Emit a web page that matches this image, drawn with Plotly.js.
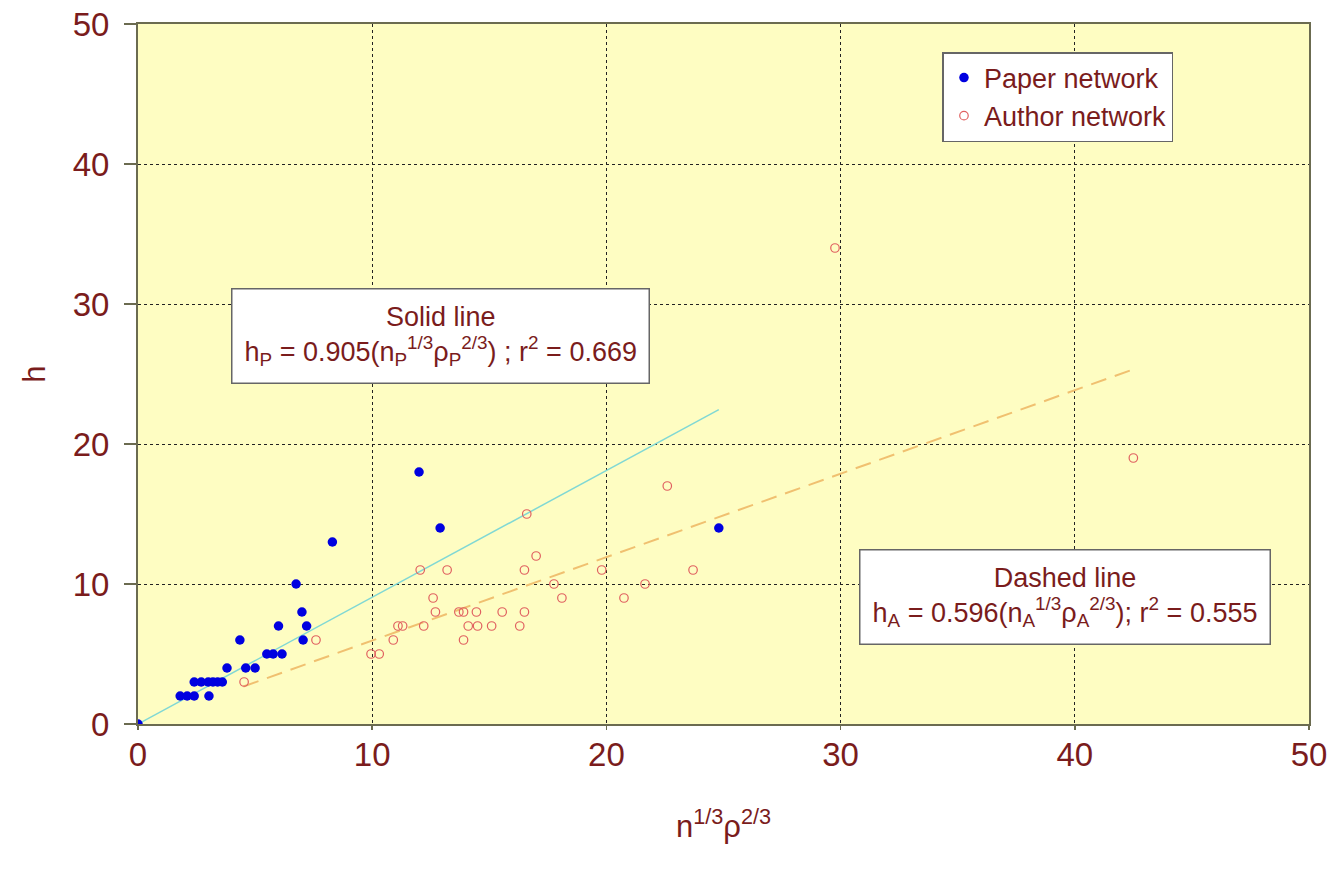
<!DOCTYPE html>
<html>
<head>
<meta charset="utf-8">
<script src="https://cdn.plot.ly/plotly-3.0.1.min.js"></script>
<style>html,body{margin:0;padding:0;background:#fff;}#chart{width:1332px;height:870px;}</style>
</head>
<body>
<div id="chart"></div>
<script>
// Paper network (h_P vs n^{1/3} rho^{2/3})
const paperX = [0, 1.8, 2.1, 2.4, 3.03, 2.4, 2.7, 3.0, 3.2, 3.4, 3.6, 3.8, 4.6, 5.0, 5.5, 5.77, 6.15, 4.35, 7.05, 6.0, 7.2, 7.0, 6.75, 8.3, 12.9, 12.0, 24.8];
const paperY = [0, 2, 2, 2, 2, 3, 3, 3, 3, 3, 3, 4, 4, 4, 5, 5, 5, 6, 6, 7, 7, 8, 10, 13, 14, 18, 14];
// Author network
const authorX = [4.53, 7.6, 9.95, 10.3, 10.9, 11.1, 11.3, 12.2, 14.1, 14.5, 15.1, 16.3, 13.9, 12.7, 13.7, 13.9, 14.45, 15.55, 16.5, 12.6, 18.1, 20.75, 17.76, 21.65, 12.05, 13.2, 16.5, 19.8, 23.7, 17.0, 16.6, 22.6, 42.5, 29.76];
const authorY = [3, 6, 5, 5, 6, 7, 7, 7, 7, 7, 7, 7, 6, 8, 8, 8, 8, 8, 8, 9, 9, 9, 10, 10, 11, 11, 11, 11, 11, 12, 15, 17, 19, 34];
// Fitted lines (endpoints)
const solidX = [0, 24.8];
const solidY = [0, 22.45];
const dashX = [4.5, 42.5];
const dashY = [2.68, 25.33];

const xTicks = [0, 10, 20, 30, 40, 50];
const yTicks = [0, 10, 20, 30, 40, 50];

const txt = '#7a1c1c';
const fontFam = 'Liberation Sans, Arial, sans-serif';

const traces = [
  {x: solidX, y: solidY, mode: 'lines', line: {color: '#80d8d4', width: 1.5}, showlegend: false, hoverinfo: 'skip'},
  {x: dashX, y: dashY, mode: 'lines', line: {color: '#f0c070', width: 2, dash: '16px,9px'}, showlegend: false, hoverinfo: 'skip'},
  {x: paperX, y: paperY, mode: 'markers', name: 'Paper network', marker: {color: '#0000e0', size: 9.5, symbol: 'circle'}},
  {x: authorX, y: authorY, mode: 'markers', name: 'Author network', marker: {color: '#e06060', size: 8.5, symbol: 'circle-open', line: {width: 1.2}}}
];

const axisCommon = {
  showline: true, linecolor: '#6b6b50', linewidth: 2, mirror: true,
  showgrid: true, gridcolor: '#222', gridwidth: 1, griddash: '3px,3px',
  zeroline: false, ticks: 'outside', tickcolor: '#6b6b50', tickwidth: 1.5,
  tickfont: {size: 33, color: txt, family: fontFam}
};

const layout = {
  width: 1332, height: 870,
  margin: {l: 138, r: 23, t: 24, b: 146},
  paper_bgcolor: '#ffffff',
  plot_bgcolor: '#fefdc2',
  font: {family: fontFam, color: txt},
  xaxis: Object.assign({}, axisCommon, {
    range: [0, 50], tickvals: xTicks, ticktext: xTicks.map(String), ticklen: 4,
    ticklabelstandoff: -4,
    title: {text: 'n<sup>1/3</sup>ρ<sup>2/3</sup>', font: {size: 31, color: txt}, standoff: 44}
  }),
  yaxis: Object.assign({}, axisCommon, {
    range: [0, 50], tickvals: yTicks, ticktext: yTicks.map(String), ticklen: 12,
    ticklabelstandoff: 8,
    title: {text: 'h', font: {size: 31, color: txt}, standoff: 18}
  }),
  legend: {
    x: 0.687, y: 0.96, xanchor: 'left', yanchor: 'top',
    bgcolor: '#ffffff', bordercolor: '#666', borderwidth: 1.5,
    font: {size: 27, color: txt, family: fontFam},
    itemwidth: 30, tracegroupgap: 0
  },
  annotations: [
    {xref: 'x', yref: 'y', x: 12.9, y: 27.7, xanchor: 'center', yanchor: 'middle', align: 'center',
     text: 'Solid line<br>h<sub>P</sub> = 0.905(n<sub>P</sub><sup>1/3</sup>ρ<sub>P</sub><sup>2/3</sup>) ; r<sup>2</sup> = 0.669',
     showarrow: false, bgcolor: '#ffffff', bordercolor: '#666', borderwidth: 1.5, borderpad: 12,
     font: {size: 27, color: txt, family: fontFam}},
    {xref: 'x', yref: 'y', x: 39.6, y: 9.05, xanchor: 'center', yanchor: 'middle', align: 'center',
     text: 'Dashed line<br>h<sub>A</sub> = 0.596(n<sub>A</sub><sup>1/3</sup>ρ<sub>A</sub><sup>2/3</sup>); r<sup>2</sup> = 0.555',
     showarrow: false, bgcolor: '#ffffff', bordercolor: '#666', borderwidth: 1.5, borderpad: 12,
     font: {size: 27, color: txt, family: fontFam}}
  ]
};

Plotly.newPlot('chart', traces, layout, {displayModeBar: false, staticPlot: true});
</script>
</body>
</html>
